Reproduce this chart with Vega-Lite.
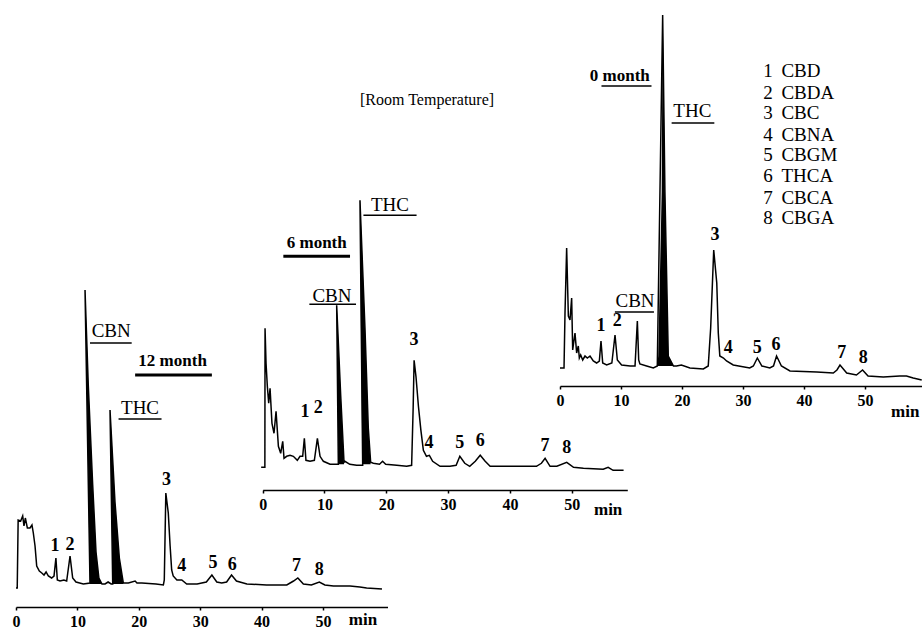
{
  "$schema": "https://vega.github.io/schema/vega-lite/v6.json",
  "width": 922,
  "height": 631,
  "autosize": "none",
  "padding": 0,
  "background": "white",
  "config": {"view": {"stroke": null}, "text": {"font": "Liberation Serif", "color": "black"}},
  "datasets": {
    "trace": [
      {"p":1,"t":0,"v":0},{"p":1,"t":0.2,"v":0},{"p":1,"t":0.35,"v":68},{"p":1,"t":0.76,"v":67},{"p":1,"t":1.09,"v":72},{"p":1,"t":1.3,"v":62},{"p":1,"t":1.52,"v":70},{"p":1,"t":1.85,"v":60},{"p":1,"t":2.28,"v":60},{"p":1,"t":2.6,"v":63},{"p":1,"t":2.82,"v":55},{"p":1,"t":3.1,"v":42},{"p":1,"t":3.37,"v":22},{"p":1,"t":3.8,"v":17},{"p":1,"t":4.2,"v":15},{"p":1,"t":4.56,"v":13},{"p":1,"t":4.9,"v":16},{"p":1,"t":5.27,"v":12},{"p":1,"t":5.8,"v":10},{"p":1,"t":6.19,"v":12},{"p":1,"t":6.5,"v":30},{"p":1,"t":6.73,"v":8},{"p":1,"t":7.17,"v":7},{"p":1,"t":7.8,"v":8},{"p":1,"t":8.25,"v":7},{"p":1,"t":8.8,"v":32},{"p":1,"t":9.23,"v":10},{"p":1,"t":9.77,"v":6},{"p":1,"t":10.97,"v":4},{"p":1,"t":12.05,"v":5},{"p":1,"t":11.24,"v":298},{"p":1,"t":11.77,"v":203},{"p":1,"t":12.49,"v":103},{"p":1,"t":13.03,"v":36},{"p":1,"t":13.5,"v":10},{"p":1,"t":14.0,"v":4},{"p":1,"t":14.5,"v":4},{"p":1,"t":15.0,"v":6},{"p":1,"t":15.5,"v":4},{"p":1,"t":15.75,"v":4},{"p":1,"t":15.31,"v":178},{"p":1,"t":16.12,"v":86},{"p":1,"t":16.83,"v":30},{"p":1,"t":17.48,"v":5},{"p":1,"t":18.3,"v":5},{"p":1,"t":19.4,"v":7},{"p":1,"t":19.7,"v":5},{"p":1,"t":20.5,"v":5},{"p":1,"t":22.8,"v":4},{"p":1,"t":24.0,"v":3},{"p":1,"t":24.15,"v":8},{"p":1,"t":24.4,"v":95},{"p":1,"t":24.8,"v":75},{"p":1,"t":25.1,"v":42},{"p":1,"t":25.35,"v":18},{"p":1,"t":25.6,"v":12},{"p":1,"t":26.2,"v":8},{"p":1,"t":27.0,"v":8},{"p":1,"t":27.8,"v":4},{"p":1,"t":29.5,"v":4},{"p":1,"t":31.0,"v":6},{"p":1,"t":31.9,"v":13},{"p":1,"t":32.7,"v":6},{"p":1,"t":33.5,"v":5},{"p":1,"t":34.3,"v":6},{"p":1,"t":35.1,"v":13},{"p":1,"t":35.9,"v":7},{"p":1,"t":37.6,"v":4},{"p":1,"t":40.8,"v":3},{"p":1,"t":44.1,"v":3},{"p":1,"t":45.2,"v":7},{"p":1,"t":45.9,"v":10},{"p":1,"t":46.8,"v":4},{"p":1,"t":48.1,"v":3},{"p":1,"t":49.4,"v":6},{"p":1,"t":50.3,"v":3},{"p":1,"t":51.7,"v":2},{"p":1,"t":54.4,"v":2},{"p":1,"t":56.0,"v":1},{"p":1,"t":57.1,"v":0},{"p":1,"t":59.6,"v":-1},
      {"p":2,"t":-0.25,"v":0},{"p":2,"t":0.35,"v":0},{"p":2,"t":0.38,"v":139},{"p":2,"t":0.54,"v":104},{"p":2,"t":0.75,"v":81},{"p":2,"t":0.97,"v":64},{"p":2,"t":1.19,"v":79},{"p":2,"t":1.5,"v":44},{"p":2,"t":1.83,"v":34},{"p":2,"t":2.16,"v":56},{"p":2,"t":2.54,"v":21},{"p":2,"t":2.91,"v":14},{"p":2,"t":3.24,"v":26},{"p":2,"t":3.45,"v":9},{"p":2,"t":3.88,"v":11},{"p":2,"t":4.42,"v":12},{"p":2,"t":4.96,"v":11},{"p":2,"t":5.6,"v":7},{"p":2,"t":6.04,"v":11},{"p":2,"t":6.47,"v":11},{"p":2,"t":6.74,"v":29},{"p":2,"t":7.0,"v":7},{"p":2,"t":7.66,"v":6},{"p":2,"t":8.36,"v":7},{"p":2,"t":8.85,"v":29},{"p":2,"t":9.28,"v":11},{"p":2,"t":9.82,"v":6},{"p":2,"t":10.9,"v":3},{"p":2,"t":12.24,"v":3},{"p":2,"t":11.97,"v":162},{"p":2,"t":12.62,"v":72},{"p":2,"t":13.16,"v":5},{"p":2,"t":13.3,"v":6},{"p":2,"t":14.1,"v":3},{"p":2,"t":15.2,"v":2},{"p":2,"t":16.18,"v":2},{"p":2,"t":15.74,"v":267},{"p":2,"t":16.55,"v":139},{"p":2,"t":17.09,"v":39},{"p":2,"t":17.47,"v":5},{"p":2,"t":17.9,"v":4},{"p":2,"t":18.9,"v":3},{"p":2,"t":19.4,"v":6},{"p":2,"t":19.9,"v":3},{"p":2,"t":21.7,"v":2},{"p":2,"t":23.3,"v":1},{"p":2,"t":24.1,"v":2},{"p":2,"t":24.35,"v":60},{"p":2,"t":24.5,"v":107},{"p":2,"t":24.8,"v":91},{"p":2,"t":25.2,"v":61},{"p":2,"t":25.6,"v":37},{"p":2,"t":26.0,"v":17},{"p":2,"t":26.5,"v":11},{"p":2,"t":26.97,"v":12},{"p":2,"t":27.5,"v":6},{"p":2,"t":28.7,"v":1},{"p":2,"t":30.3,"v":1},{"p":2,"t":31.3,"v":2},{"p":2,"t":31.9,"v":11},{"p":2,"t":32.7,"v":4},{"p":2,"t":33.5,"v":1},{"p":2,"t":34.4,"v":6},{"p":2,"t":35.2,"v":12},{"p":2,"t":36.0,"v":6},{"p":2,"t":36.8,"v":1},{"p":2,"t":41.1,"v":1},{"p":2,"t":44.3,"v":1},{"p":2,"t":45.1,"v":4},{"p":2,"t":45.7,"v":9},{"p":2,"t":46.5,"v":1},{"p":2,"t":47.6,"v":1},{"p":2,"t":49.2,"v":5},{"p":2,"t":50.3,"v":0},{"p":2,"t":51.9,"v":-1},{"p":2,"t":55.1,"v":-2},{"p":2,"t":55.9,"v":0},{"p":2,"t":56.7,"v":-3},{"p":2,"t":58.4,"v":-3},
      {"p":3,"t":0,"v":0},{"p":3,"t":0.66,"v":0},{"p":3,"t":0.82,"v":55},{"p":3,"t":1.09,"v":120},{"p":3,"t":1.37,"v":52},{"p":3,"t":1.64,"v":48},{"p":3,"t":1.91,"v":70},{"p":3,"t":2.08,"v":18},{"p":3,"t":2.46,"v":35},{"p":3,"t":2.73,"v":15},{"p":3,"t":3.0,"v":22},{"p":3,"t":3.17,"v":10},{"p":3,"t":3.39,"v":13},{"p":3,"t":3.72,"v":8},{"p":3,"t":4.1,"v":12},{"p":3,"t":4.48,"v":10},{"p":3,"t":4.92,"v":12},{"p":3,"t":5.46,"v":7},{"p":3,"t":6.0,"v":5},{"p":3,"t":6.45,"v":7},{"p":3,"t":6.72,"v":27},{"p":3,"t":7.0,"v":5},{"p":3,"t":7.65,"v":3},{"p":3,"t":8.5,"v":5},{"p":3,"t":9.02,"v":33},{"p":3,"t":9.4,"v":8},{"p":3,"t":10.1,"v":3},{"p":3,"t":11.5,"v":2},{"p":3,"t":12.3,"v":2},{"p":3,"t":12.68,"v":47},{"p":3,"t":12.9,"v":8},{"p":3,"t":13.1,"v":4},{"p":3,"t":14.2,"v":2},{"p":3,"t":15.3,"v":0},{"p":3,"t":15.95,"v":2},{"p":3,"t":16.83,"v":353},{"p":3,"t":17.2,"v":176},{"p":3,"t":17.75,"v":12},{"p":3,"t":18.6,"v":2},{"p":3,"t":19.1,"v":2},{"p":3,"t":19.9,"v":3},{"p":3,"t":21.3,"v":0},{"p":3,"t":23.5,"v":-1},{"p":3,"t":24.3,"v":2},{"p":3,"t":24.7,"v":40},{"p":3,"t":25.2,"v":118},{"p":3,"t":25.7,"v":85},{"p":3,"t":25.95,"v":35},{"p":3,"t":26.2,"v":12},{"p":3,"t":26.8,"v":10},{"p":3,"t":27.3,"v":7},{"p":3,"t":28.4,"v":3},{"p":3,"t":31.1,"v":0},{"p":3,"t":31.7,"v":2},{"p":3,"t":32.35,"v":10},{"p":3,"t":33.1,"v":2},{"p":3,"t":34.4,"v":0},{"p":3,"t":35.0,"v":2},{"p":3,"t":35.5,"v":12},{"p":3,"t":36.3,"v":2},{"p":3,"t":37.7,"v":-3},{"p":3,"t":42.1,"v":-4},{"p":3,"t":44.8,"v":-5},{"p":3,"t":45.4,"v":-2},{"p":3,"t":45.9,"v":3},{"p":3,"t":47.0,"v":-5},{"p":3,"t":48.6,"v":-7},{"p":3,"t":49.6,"v":-2},{"p":3,"t":50.5,"v":-8},{"p":3,"t":53.0,"v":-9},{"p":3,"t":55.7,"v":-8},{"p":3,"t":56.8,"v":-8},{"p":3,"t":57.9,"v":-10},{"p":3,"t":59.3,"v":-12}
    ],
    "fill": [
      {"p":1,"pk":"CBN","v":298,"l":11.24,"r":11.26},{"p":1,"pk":"CBN","v":203,"l":11.52,"r":11.77},{"p":1,"pk":"CBN","v":103,"l":11.78,"r":12.49},{"p":1,"pk":"CBN","v":36,"l":11.94,"r":13.03},{"p":1,"pk":"CBN","v":10,"l":12.03,"r":13.5},{"p":1,"pk":"CBN","v":4,"l":12.05,"r":14.0},
      {"p":1,"pk":"THC","v":178,"l":15.31,"r":15.33},{"p":1,"pk":"THC","v":86,"l":15.53,"r":16.12},{"p":1,"pk":"THC","v":30,"l":15.69,"r":16.83},{"p":1,"pk":"THC","v":4,"l":15.75,"r":17.48},
      {"p":2,"pk":"CBN","v":162,"l":11.97,"r":11.99},{"p":2,"pk":"CBN","v":72,"l":12.13,"r":12.62},{"p":2,"pk":"CBN","v":3,"l":12.24,"r":13.16},
      {"p":2,"pk":"THC","v":267,"l":15.74,"r":15.76},{"p":2,"pk":"THC","v":139,"l":15.9,"r":16.55},{"p":2,"pk":"THC","v":39,"l":16.07,"r":17.09},{"p":2,"pk":"THC","v":3,"l":16.18,"r":17.47},
      {"p":3,"pk":"THC","v":353,"l":16.82,"r":16.85},{"p":3,"pk":"THC","v":176,"l":16.67,"r":17.2},{"p":3,"pk":"THC","v":12,"l":16.1,"r":17.75},{"p":3,"pk":"THC","v":2,"l":15.95,"r":18.6}
    ],
    "labels": [
      {"p":1,"kind":"peak","t":6.35,"v":42,"text":"1"},{"p":1,"kind":"peak","t":8.8,"v":43,"text":"2"},{"p":1,"kind":"peak","t":24.5,"v":108,"text":"3"},{"p":1,"kind":"peak","t":27.0,"v":22,"text":"4"},{"p":1,"kind":"peak","t":32.1,"v":25,"text":"5"},{"p":1,"kind":"peak","t":35.2,"v":23,"text":"6"},{"p":1,"kind":"peak","t":45.7,"v":22,"text":"7"},{"p":1,"kind":"peak","t":49.4,"v":18,"text":"8"},
      {"p":1,"kind":"name","t":15.5,"v":257,"text":"CBN"},{"p":1,"kind":"name","t":20.2,"v":180,"text":"THC"},
      {"p":1,"kind":"month","t":25.5,"v":227,"text":"12 month"},
      {"p":1,"kind":"min","t":56.5,"v":-32,"text":"min"},
      {"p":2,"kind":"peak","t":6.85,"v":55,"text":"1"},{"p":2,"kind":"peak","t":9.0,"v":59,"text":"2"},{"p":2,"kind":"peak","t":24.5,"v":127,"text":"3"},{"p":2,"kind":"peak","t":26.9,"v":24,"text":"4"},{"p":2,"kind":"peak","t":31.9,"v":24,"text":"5"},{"p":2,"kind":"peak","t":35.2,"v":26,"text":"6"},{"p":2,"kind":"peak","t":45.7,"v":21,"text":"7"},{"p":2,"kind":"peak","t":49.2,"v":19,"text":"8"},
      {"p":2,"kind":"name","t":11.2,"v":171,"text":"CBN"},{"p":2,"kind":"name","t":20.6,"v":262,"text":"THC"},
      {"p":2,"kind":"month","t":8.74,"v":224,"text":"6 month"},
      {"p":2,"kind":"min","t":55.9,"v":-43,"text":"min"},
      {"p":2,"kind":"title","t":26.6,"v":367,"text":"[Room Temperature]"},
      {"p":3,"kind":"peak","t":6.72,"v":42,"text":"1"},{"p":3,"kind":"peak","t":9.4,"v":47,"text":"2"},{"p":3,"kind":"peak","t":25.4,"v":133,"text":"3"},{"p":3,"kind":"peak","t":27.6,"v":20,"text":"4"},{"p":3,"kind":"peak","t":32.35,"v":20,"text":"5"},{"p":3,"kind":"peak","t":35.4,"v":23,"text":"6"},{"p":3,"kind":"peak","t":46.2,"v":15,"text":"7"},{"p":3,"kind":"peak","t":49.7,"v":10,"text":"8"},
      {"p":3,"kind":"name","t":12.3,"v":67,"text":"CBN"},{"p":3,"kind":"name","t":21.7,"v":257,"text":"THC"},
      {"p":3,"kind":"month","t":9.8,"v":292,"text":"0 month"},
      {"p":3,"kind":"min","t":56.6,"v":-44,"text":"min"},
      {"p":3,"kind":"legnum","t":33.3,"v":297,"text":"1"},{"p":3,"kind":"legnum","t":33.3,"v":275,"text":"2"},{"p":3,"kind":"legnum","t":33.3,"v":255,"text":"3"},{"p":3,"kind":"legnum","t":33.3,"v":233,"text":"4"},{"p":3,"kind":"legnum","t":33.3,"v":213,"text":"5"},{"p":3,"kind":"legnum","t":33.3,"v":192,"text":"6"},{"p":3,"kind":"legnum","t":33.3,"v":170,"text":"7"},{"p":3,"kind":"legnum","t":33.3,"v":150,"text":"8"},
      {"p":3,"kind":"legname","t":36.3,"v":297,"text":"CBD"},{"p":3,"kind":"legname","t":36.3,"v":275,"text":"CBDA"},{"p":3,"kind":"legname","t":36.3,"v":255,"text":"CBC"},{"p":3,"kind":"legname","t":36.3,"v":233,"text":"CBNA"},{"p":3,"kind":"legname","t":36.3,"v":213,"text":"CBGM"},{"p":3,"kind":"legname","t":36.3,"v":192,"text":"THCA"},{"p":3,"kind":"legname","t":36.3,"v":170,"text":"CBCA"},{"p":3,"kind":"legname","t":36.3,"v":150,"text":"CBGA"}
    ],
    "lines": [
      {"p":1,"kind":"thin","t1":12.05,"t2":18.84,"v":245},{"p":1,"kind":"thin","t1":16.7,"t2":23.7,"v":169},{"p":1,"kind":"thick","t1":19.4,"t2":31.9,"v":213},
      {"p":2,"kind":"thin","t1":7.55,"t2":15.1,"v":163},{"p":2,"kind":"thin","t1":16.3,"t2":24.9,"v":252},{"p":2,"kind":"thick","t1":3.34,"t2":14.13,"v":211},
      {"p":3,"kind":"thin","t1":9.0,"t2":15.4,"v":56},{"p":3,"kind":"thin","t1":18.3,"t2":25.3,"v":245},{"p":3,"kind":"thin","t1":6.8,"t2":15.0,"v":282}
    ]
  },
  "layer": [
    {
      "encoding": {
        "x": {"type": "quantitative", "scale": {"domain": [0, 60.5], "range": [16, 387.5], "nice": false, "zero": false},
              "axis": {"orient": "bottom", "offset": -24, "values": [0,10,20,30,40,50], "title": null, "grid": false, "tickSize": 3, "labelFont": "Liberation Serif", "labelFontSize": 16, "labelFontWeight": "bold", "labelColor": "black", "domainColor": "black", "tickColor": "black", "domainWidth": 1.5, "tickWidth": 1.5, "labelPadding": 3, "labelFlush": false, "labelOverlap": false}},
        "y": {"type": "quantitative", "scale": {"domain": [0, 300], "range": [588, 288], "nice": false, "zero": false}, "axis": null}
      },
      "layer": [
        {"data": {"name": "trace"}, "transform": [{"filter": "datum.p == 1"}],
         "mark": {"type": "line", "color": "black", "strokeWidth": 1.5},
         "encoding": {"x": {"field": "t"}, "y": {"field": "v"}, "order": {"value": null}}},
        {"data": {"name": "fill"}, "transform": [{"filter": "datum.p == 1"}],
         "mark": {"type": "area", "orient": "horizontal", "color": "black"},
         "encoding": {"y": {"field": "v"}, "x": {"field": "l"}, "x2": {"field": "r"}, "detail": {"field": "pk"}}},
        {"data": {"name": "lines"}, "transform": [{"filter": "datum.p == 1 && datum.kind == 'thin'"}],
         "mark": {"type": "rule", "color": "black", "strokeWidth": 1.5},
         "encoding": {"x": {"field": "t1"}, "x2": {"field": "t2"}, "y": {"field": "v"}}},
        {"data": {"name": "lines"}, "transform": [{"filter": "datum.p == 1 && datum.kind == 'thick'"}],
         "mark": {"type": "rule", "color": "black", "strokeWidth": 3},
         "encoding": {"x": {"field": "t1"}, "x2": {"field": "t2"}, "y": {"field": "v"}}},
        {"data": {"name": "labels"}, "transform": [{"filter": "datum.p == 1 && datum.kind == 'peak'"}],
         "mark": {"type": "text", "fontSize": 18, "fontWeight": "bold", "align": "center", "baseline": "middle"},
         "encoding": {"x": {"field": "t"}, "y": {"field": "v"}, "text": {"field": "text"}}},
        {"data": {"name": "labels"}, "transform": [{"filter": "datum.p == 1 && datum.kind == 'name'"}],
         "mark": {"type": "text", "fontSize": 19, "align": "center", "baseline": "middle"},
         "encoding": {"x": {"field": "t"}, "y": {"field": "v"}, "text": {"field": "text"}}},
        {"data": {"name": "labels"}, "transform": [{"filter": "datum.p == 1 && (datum.kind == 'month' || datum.kind == 'min')"}],
         "mark": {"type": "text", "fontSize": 17, "fontWeight": "bold", "align": "center", "baseline": "middle"},
         "encoding": {"x": {"field": "t"}, "y": {"field": "v"}, "text": {"field": "text"}}}
      ]
    },
    {
      "encoding": {
        "x": {"type": "quantitative", "scale": {"domain": [0, 59], "range": [262.7, 627.3], "nice": false, "zero": false},
              "axis": {"orient": "bottom", "offset": -141, "values": [0,10,20,30,40,50], "title": null, "grid": false, "tickSize": 3, "labelFont": "Liberation Serif", "labelFontSize": 16, "labelFontWeight": "bold", "labelColor": "black", "domainColor": "black", "tickColor": "black", "domainWidth": 1.5, "tickWidth": 1.5, "labelPadding": 3, "labelFlush": false, "labelOverlap": false}},
        "y": {"type": "quantitative", "scale": {"domain": [0, 300], "range": [467.3, 167.3], "nice": false, "zero": false}, "axis": null}
      },
      "layer": [
        {"data": {"name": "trace"}, "transform": [{"filter": "datum.p == 2"}],
         "mark": {"type": "line", "color": "black", "strokeWidth": 1.5},
         "encoding": {"x": {"field": "t"}, "y": {"field": "v"}, "order": {"value": null}}},
        {"data": {"name": "fill"}, "transform": [{"filter": "datum.p == 2"}],
         "mark": {"type": "area", "orient": "horizontal", "color": "black"},
         "encoding": {"y": {"field": "v"}, "x": {"field": "l"}, "x2": {"field": "r"}, "detail": {"field": "pk"}}},
        {"data": {"name": "lines"}, "transform": [{"filter": "datum.p == 2 && datum.kind == 'thin'"}],
         "mark": {"type": "rule", "color": "black", "strokeWidth": 1.5},
         "encoding": {"x": {"field": "t1"}, "x2": {"field": "t2"}, "y": {"field": "v"}}},
        {"data": {"name": "lines"}, "transform": [{"filter": "datum.p == 2 && datum.kind == 'thick'"}],
         "mark": {"type": "rule", "color": "black", "strokeWidth": 3},
         "encoding": {"x": {"field": "t1"}, "x2": {"field": "t2"}, "y": {"field": "v"}}},
        {"data": {"name": "labels"}, "transform": [{"filter": "datum.p == 2 && datum.kind == 'peak'"}],
         "mark": {"type": "text", "fontSize": 18, "fontWeight": "bold", "align": "center", "baseline": "middle"},
         "encoding": {"x": {"field": "t"}, "y": {"field": "v"}, "text": {"field": "text"}}},
        {"data": {"name": "labels"}, "transform": [{"filter": "datum.p == 2 && datum.kind == 'name'"}],
         "mark": {"type": "text", "fontSize": 19, "align": "center", "baseline": "middle"},
         "encoding": {"x": {"field": "t"}, "y": {"field": "v"}, "text": {"field": "text"}}},
        {"data": {"name": "labels"}, "transform": [{"filter": "datum.p == 2 && (datum.kind == 'month' || datum.kind == 'min')"}],
         "mark": {"type": "text", "fontSize": 17, "fontWeight": "bold", "align": "center", "baseline": "middle"},
         "encoding": {"x": {"field": "t"}, "y": {"field": "v"}, "text": {"field": "text"}}},
        {"data": {"name": "labels"}, "transform": [{"filter": "datum.p == 2 && datum.kind == 'title'"}],
         "mark": {"type": "text", "fontSize": 16, "align": "center", "baseline": "middle"},
         "encoding": {"x": {"field": "t"}, "y": {"field": "v"}, "text": {"field": "text"}}}
      ]
    },
    {
      "encoding": {
        "x": {"type": "quantitative", "scale": {"domain": [0, 60], "range": [560, 926], "nice": false, "zero": false},
              "axis": {"orient": "bottom", "offset": -245, "values": [0,10,20,30,40,50], "title": null, "grid": false, "tickSize": 3, "labelFont": "Liberation Serif", "labelFontSize": 16, "labelFontWeight": "bold", "labelColor": "black", "domainColor": "black", "tickColor": "black", "domainWidth": 1.5, "tickWidth": 1.5, "labelPadding": 3, "labelFlush": false, "labelOverlap": false}},
        "y": {"type": "quantitative", "scale": {"domain": [0, 300], "range": [368, 68], "nice": false, "zero": false}, "axis": null}
      },
      "layer": [
        {"data": {"name": "trace"}, "transform": [{"filter": "datum.p == 3"}],
         "mark": {"type": "line", "color": "black", "strokeWidth": 1.5},
         "encoding": {"x": {"field": "t"}, "y": {"field": "v"}, "order": {"value": null}}},
        {"data": {"name": "fill"}, "transform": [{"filter": "datum.p == 3"}],
         "mark": {"type": "area", "orient": "horizontal", "color": "black"},
         "encoding": {"y": {"field": "v"}, "x": {"field": "l"}, "x2": {"field": "r"}, "detail": {"field": "pk"}}},
        {"data": {"name": "lines"}, "transform": [{"filter": "datum.p == 3"}],
         "mark": {"type": "rule", "color": "black", "strokeWidth": 1.5},
         "encoding": {"x": {"field": "t1"}, "x2": {"field": "t2"}, "y": {"field": "v"}}},
        {"data": {"name": "labels"}, "transform": [{"filter": "datum.p == 3 && datum.kind == 'peak'"}],
         "mark": {"type": "text", "fontSize": 18, "fontWeight": "bold", "align": "center", "baseline": "middle"},
         "encoding": {"x": {"field": "t"}, "y": {"field": "v"}, "text": {"field": "text"}}},
        {"data": {"name": "labels"}, "transform": [{"filter": "datum.p == 3 && datum.kind == 'name'"}],
         "mark": {"type": "text", "fontSize": 19, "align": "center", "baseline": "middle"},
         "encoding": {"x": {"field": "t"}, "y": {"field": "v"}, "text": {"field": "text"}}},
        {"data": {"name": "labels"}, "transform": [{"filter": "datum.p == 3 && (datum.kind == 'month' || datum.kind == 'min')"}],
         "mark": {"type": "text", "fontSize": 17, "fontWeight": "bold", "align": "center", "baseline": "middle"},
         "encoding": {"x": {"field": "t"}, "y": {"field": "v"}, "text": {"field": "text"}}},
        {"data": {"name": "labels"}, "transform": [{"filter": "datum.p == 3 && (datum.kind == 'legnum' || datum.kind == 'legname')"}],
         "mark": {"type": "text", "fontSize": 19, "align": "left", "baseline": "middle"},
         "encoding": {"x": {"field": "t"}, "y": {"field": "v"}, "text": {"field": "text"}}}
      ]
    }
  ],
  "resolve": {"scale": {"x": "independent", "y": "independent"}, "axis": {"x": "independent", "y": "independent"}}
}
